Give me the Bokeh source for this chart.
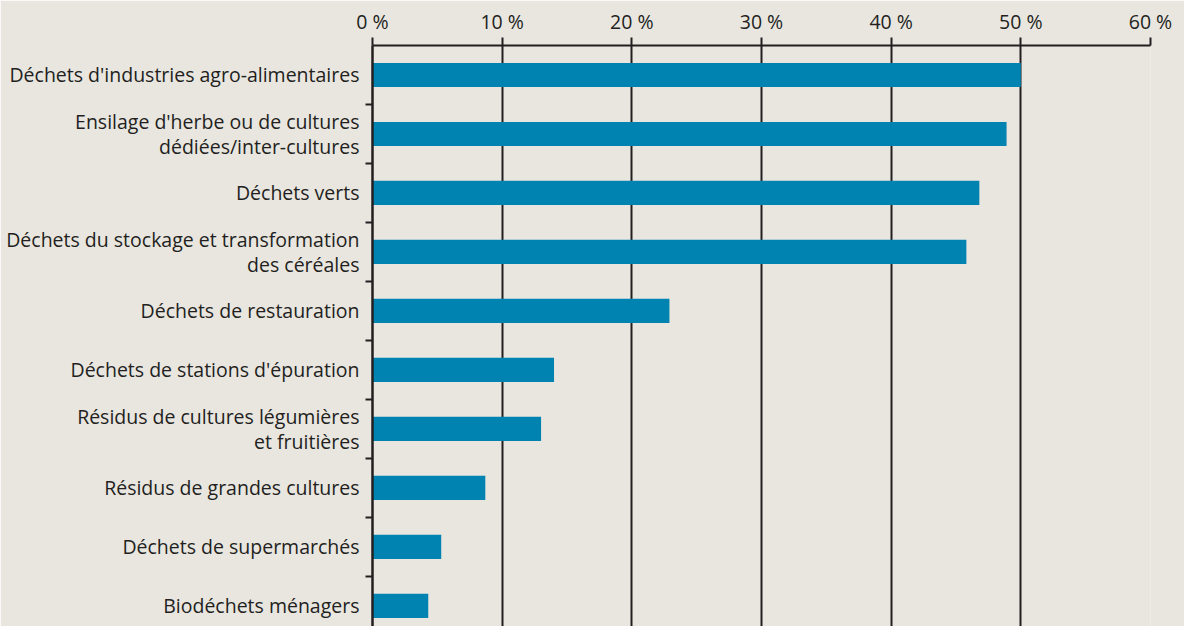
from bokeh.plotting import figure
from bokeh.models import Range1d, LinearAxis, FixedTicker
from bokeh.embed import file_html
from bokeh.resources import INLINE

categories = [
    "Déchets d'industries agro-alimentaires",
    "Ensilage d'herbe ou de cultures\ndédiées/inter-cultures",
    "Déchets verts",
    "Déchets du stockage et transformation\ndes céréales",
    "Déchets de restauration",
    "Déchets de stations d'épuration",
    "Résidus de cultures légumières\net fruitières",
    "Résidus de grandes cultures",
    "Déchets de supermarchés",
    "Biodéchets ménagers",
]
values = [50.0, 48.9, 46.8, 45.8, 22.9, 14.0, 13.0, 8.7, 5.3, 4.3]
x_ticks = [0, 10, 20, 30, 40, 50, 60]
x_tick_labels = ["0 %", "10 %", "20 %", "30 %", "40 %", "50 %", "60 %"]

BG = "#e9e6e0"
BAR = "#0083b0"
INK = "#231f20"
FONT = "Open Sans"
FS = "19.5px"

n = len(categories)
centers = [i + 0.5 for i in range(n)]
boundaries = list(range(1, n))

p = figure(
    width=1184, height=626,
    x_range=Range1d(0, 60), y_range=Range1d(start=9.85, end=0),
    output_backend="svg", toolbar_location=None,
    x_axis_location=None, y_axis_location=None,
    min_border_left=372, min_border_right=34, min_border_top=45, min_border_bottom=0,
)
p.background_fill_color = BG
p.border_fill_color = BG
p.outline_line_color = None

p.hbar(y=centers, left=0, right=values, height=0.41, fill_color=BAR, line_color=None)

# top axis
xa = LinearAxis(ticker=FixedTicker(ticks=x_ticks, minor_ticks=[]))
xa.major_label_overrides = {t: l for t, l in zip(x_ticks, x_tick_labels)}
xa.axis_line_color = INK
xa.axis_line_width = 2
xa.major_tick_line_color = INK
xa.major_tick_line_width = 2
xa.major_tick_out = 8
xa.major_tick_in = 0
xa.major_label_standoff = 3
xa.major_label_text_font = FONT
xa.major_label_text_font_size = FS
xa.major_label_text_color = INK
p.add_layout(xa, "above")

# left axis
ya = LinearAxis(ticker=FixedTicker(ticks=centers, minor_ticks=boundaries))
ya.major_label_overrides = {c: l for c, l in zip(centers, categories)}
ya.axis_line_color = INK
ya.axis_line_width = 2.5
ya.major_tick_line_color = None
ya.major_tick_out = 0
ya.major_tick_in = 0
ya.minor_tick_line_color = INK
ya.minor_tick_line_width = 2
ya.minor_tick_out = 7
ya.minor_tick_in = 0
ya.major_label_standoff = 6
ya.major_label_text_font = FONT
ya.major_label_text_font_size = FS
ya.major_label_text_color = INK
ya.major_label_text_align = "right"
ya.major_label_text_line_height = 0.9
p.add_layout(ya, "left")

p.xgrid.ticker = FixedTicker(ticks=x_ticks, minor_ticks=[])
p.xgrid.grid_line_color = INK
p.xgrid.grid_line_width = 2
p.xgrid.grid_line_alpha = 1.0
p.ygrid.grid_line_color = None

html = file_html(p, INLINE)
html = html.replace("<body>", '<body style="margin:0;background:%s">' % BG, 1)
open("out.html", "w").write(html)
